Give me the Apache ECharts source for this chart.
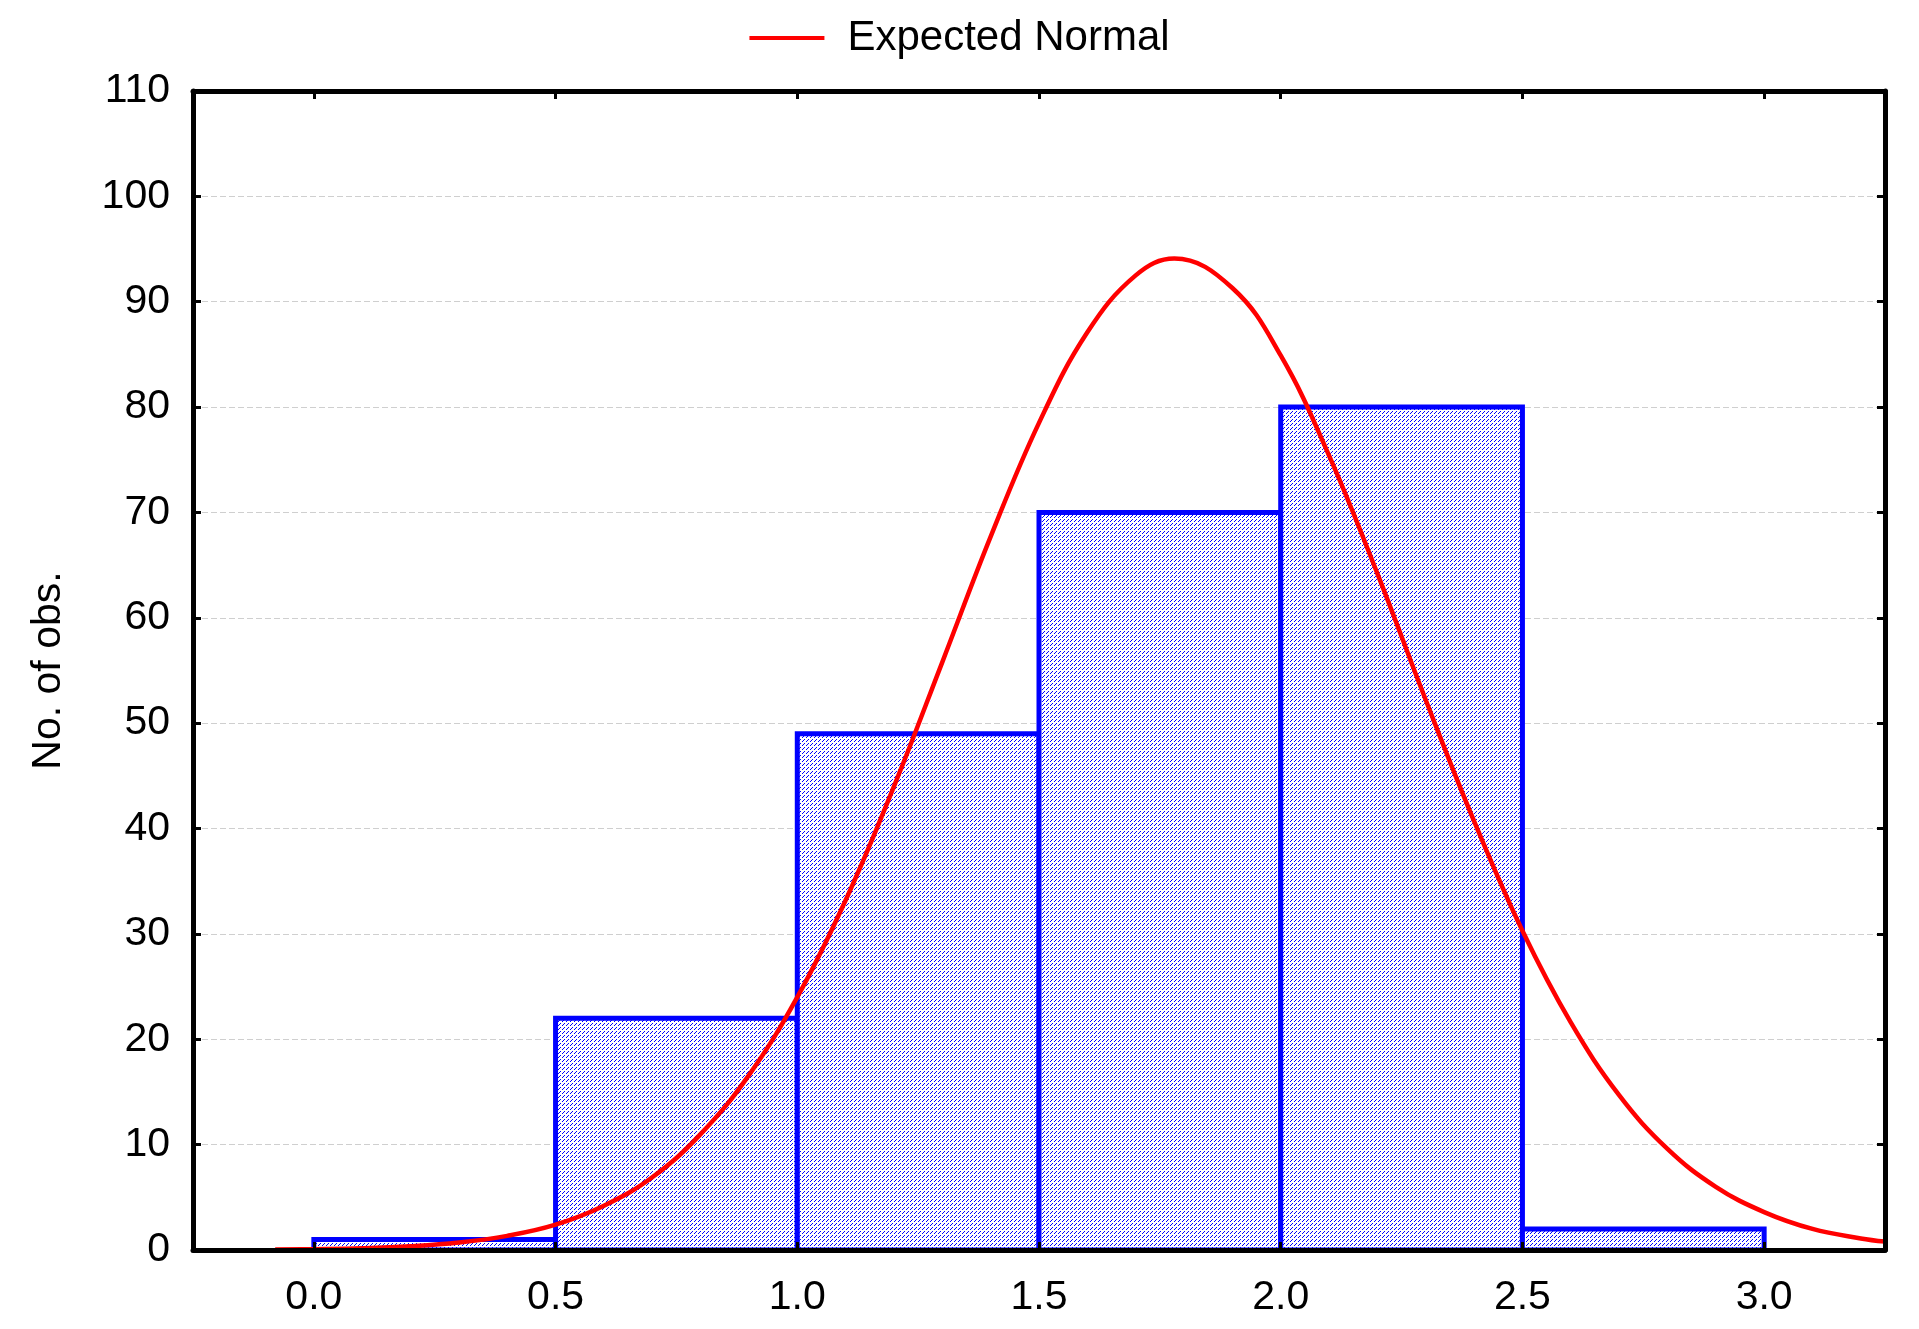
<!DOCTYPE html>
<html>
<head>
<meta charset="utf-8">
<script src="https://cdn.jsdelivr.net/npm/echarts@6/dist/echarts.min.js"></script>
<style>html,body{margin:0;padding:0;background:#fff;}#c{width:1919px;height:1329px;}</style>
</head>
<body>
<div id="c"></div>
<script>
// Histogram bins (lower edge, upper edge) and counts
const binStarts = [0.0, 0.5, 1.0, 1.5, 2.0, 2.5];
const binEnds   = [0.5, 1.0, 1.5, 2.0, 2.5, 3.0];
const binCounts = [1, 22, 49, 70, 80, 2];

// Expected normal curve
const curveX = [-0.08, 0.0, 0.1, 0.2, 0.3, 0.4, 0.5, 0.6, 0.7, 0.8, 0.9, 1.0, 1.1, 1.2, 1.3, 1.4, 1.5, 1.6, 1.7, 1.78, 1.9, 2.0, 2.1, 2.2, 2.3, 2.4, 2.5, 2.6, 2.7, 2.8, 2.9, 3.0, 3.1, 3.2, 3.25];
const curveY = [0.04, 0.08, 0.17, 0.36, 0.71, 1.34, 2.4, 4.2, 6.9, 11.0, 16.6, 24.0, 33.2, 44.0, 55.8, 67.7, 78.5, 87.1, 92.5, 94.1, 91.3, 84.9, 75.4, 64.2, 52.2, 40.7, 30.3, 21.6, 14.7, 9.6, 6.0, 3.6, 2.0, 1.1, 0.8];

const xTicks = [0.0, 0.5, 1.0, 1.5, 2.0, 2.5, 3.0];
const legendLabel = 'Expected Normal';
const yName = 'No. of obs.';

// hatch pattern (dotted diagonal lines)
const pat = document.createElement('canvas');
pat.width = 4; pat.height = 4;
const pctx = pat.getContext('2d');
pctx.fillStyle = '#ffffff'; pctx.fillRect(0,0,4,4);
pctx.fillStyle = '#0000ff';
pctx.fillRect(3,0,1,1); pctx.fillRect(2,1,1,1); pctx.fillRect(0,3,1,1);

const histData = binStarts.map((s, i) => [s, binEnds[i], binCounts[i]]);
const curveData = curveX.map((x, i) => [x, curveY[i]]);

const FONT = 'Liberation Sans';
const FS = 41;

const chart = echarts.init(document.getElementById('c'), null, {renderer: 'canvas'});
chart.setOption({
  animation: false,
  backgroundColor: '#fff',
  textStyle: {fontFamily: FONT},
  legend: {
    top: 12, left: 'center',
    data: [{name: legendLabel, icon: 'rect'}],
    itemWidth: 75, itemHeight: 4,
    textStyle: {fontSize: 42, color: '#000', fontFamily: FONT, padding: [0, 0, 0, 18]}
  },
  grid: {left: 193, right: 34, top: 91, bottom: 79, containLabel: false},
  xAxis: [{
    type: 'value', min: -0.25, max: 3.25, position: 'bottom', z: 10,
    axisLine: {show: true, onZero: false, lineStyle: {color: '#000', width: 5}},
    axisTick: {show: true, inside: true, length: 8, customValues: xTicks, lineStyle: {color: '#000', width: 3}},
    axisLabel: {show: true, customValues: xTicks, margin: 27, fontSize: FS, color: '#000', fontFamily: FONT,
      formatter: v => v.toFixed(1)},
    splitLine: {show: false}
  }, {
    type: 'value', min: -0.25, max: 3.25, position: 'top', z: 10,
    axisLine: {show: true, onZero: false, lineStyle: {color: '#000', width: 5}},
    axisTick: {show: true, inside: true, length: 8, customValues: xTicks, lineStyle: {color: '#000', width: 3}},
    axisLabel: {show: false},
    splitLine: {show: false}
  }],
  yAxis: [{
    type: 'value', min: 0, max: 110, interval: 10, position: 'left', z: 10,
    name: yName, nameLocation: 'middle', nameGap: 124, nameRotate: 90,
    nameTextStyle: {fontSize: FS, color: '#000', fontFamily: FONT},
    axisLine: {show: true, onZero: false, lineStyle: {color: '#000', width: 5}},
    axisTick: {show: true, inside: true, length: 8, lineStyle: {color: '#000', width: 3}},
    axisLabel: {show: true, margin: 23, fontSize: FS, color: '#000', fontFamily: FONT},
    splitLine: {show: false}
  }, {
    type: 'value', min: 0, max: 110, interval: 10, position: 'right', z: 10,
    axisLine: {show: true, onZero: false, lineStyle: {color: '#000', width: 5}},
    axisTick: {show: true, inside: true, length: 8, lineStyle: {color: '#000', width: 3}},
    axisLabel: {show: false},
    splitLine: {show: false}
  }, {
    type: 'value', min: 0, max: 110, interval: 10, position: 'left', z: 0,
    axisLine: {show: false}, axisTick: {show: false}, axisLabel: {show: false},
    splitLine: {show: true, lineStyle: {color: '#cfcfcf', width: 1, type: [6, 3]}}
  }],
  series: [{
    type: 'custom', name: 'hist', xAxisIndex: 0, yAxisIndex: 0, z: 3,
    data: histData,
    encode: {x: [0, 1], y: 2},
    renderItem: function (params, api) {
      const p0 = api.coord([api.value(0), api.value(2)]);
      const p1 = api.coord([api.value(1), 0]);
      return {
        type: 'rect',
        shape: {x: p0[0], y: p0[1], width: p1[0] - p0[0], height: p1[1] - p0[1]},
        style: {fill: {image: pat, repeat: 'repeat'}, stroke: '#0000ff', lineWidth: 5}
      };
    }
  }, {
    type: 'line', name: legendLabel, xAxisIndex: 0, yAxisIndex: 0, z: 5,
    data: curveData, smooth: 0.4, showSymbol: false, symbol: 'none',
    lineStyle: {color: '#ff0000', width: 4.5},
    itemStyle: {color: '#ff0000'}
  }]
});
</script>
</body>
</html>
